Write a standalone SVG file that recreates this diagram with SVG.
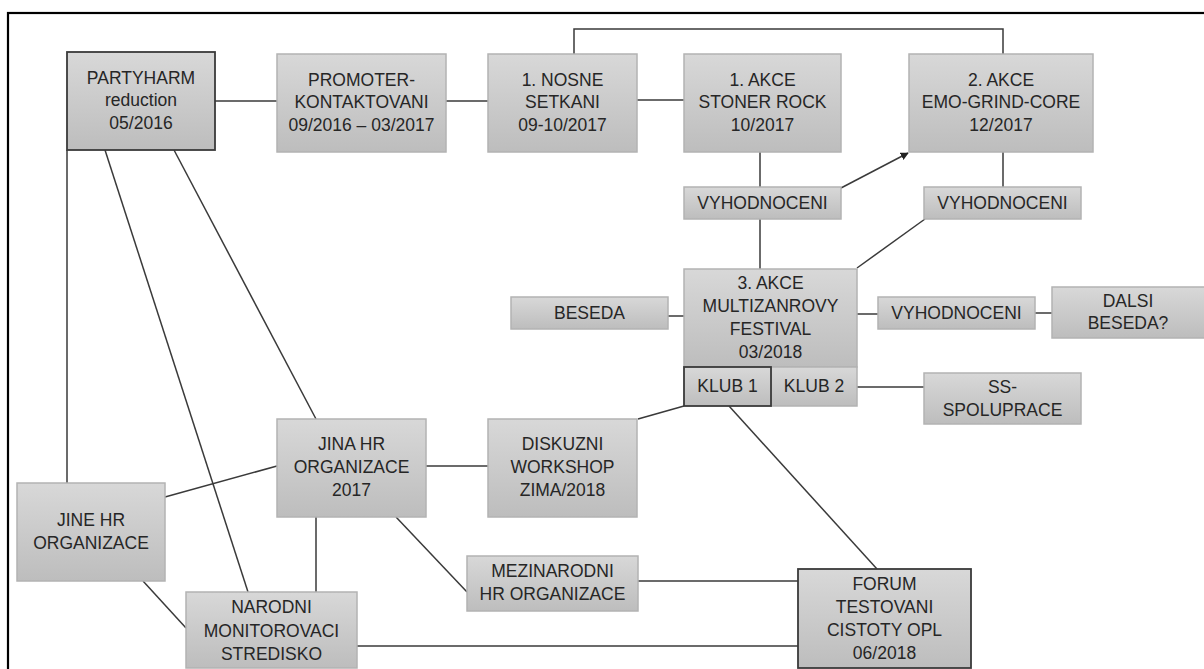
<svg xmlns="http://www.w3.org/2000/svg" width="1204" height="669" viewBox="0 0 1204 669">
<defs>
<linearGradient id="g" x1="0" y1="0" x2="0" y2="1">
<stop offset="0" stop-color="#d8d8d8"/>
<stop offset="1" stop-color="#bdbdbd"/>
</linearGradient>
<marker id="arr" viewBox="0 0 10 10" refX="9" refY="5" markerWidth="8" markerHeight="8" markerUnits="userSpaceOnUse" orient="auto">
<path d="M0,0 L10,5 L0,10 z" fill="#222"/>
</marker>
<style>
.n{fill:url(#g);stroke:#b3b3b3;stroke-width:1.5}
.d{fill:url(#g);stroke:#3a3a3a;stroke-width:1.8}
text{font-family:"Liberation Sans",Arial,sans-serif;font-size:17.5px;fill:#262626;text-anchor:middle}
.c line,.c polyline{stroke:#3a3a3a;stroke-width:1.5;fill:none}
</style>
</defs>
<rect x="8" y="13" width="1220" height="700" fill="#fff" stroke="#000" stroke-width="2.2"/>
<g class="c" id="connectors">
<line x1="215" y1="101" x2="277" y2="101"/>
<line x1="446" y1="101" x2="488" y2="101"/>
<line x1="637" y1="100" x2="684" y2="100"/>
<polyline points="574,54 574,29 1003,29 1003,54"/>
<line x1="760" y1="152" x2="760" y2="187"/>
<line x1="841" y1="188" x2="908" y2="153" marker-end="url(#arr)"/>
<line x1="1003" y1="152" x2="1003" y2="187"/>
<line x1="925" y1="219" x2="857" y2="268"/>
<line x1="760" y1="219" x2="760" y2="269"/>
<line x1="668" y1="316" x2="684" y2="316"/>
<line x1="857" y1="314" x2="878" y2="314"/>
<line x1="1035" y1="313" x2="1052" y2="313"/>
<line x1="857" y1="387" x2="924" y2="387"/>
<line x1="684" y1="406" x2="638" y2="419"/>
<line x1="729" y1="406" x2="877" y2="569"/>
<line x1="67" y1="150" x2="67" y2="483"/>
<line x1="105" y1="150" x2="248" y2="592"/>
<line x1="174" y1="150" x2="316" y2="419"/>
<line x1="165" y1="497" x2="277" y2="466"/>
<line x1="426" y1="466" x2="488" y2="466"/>
<line x1="316" y1="517" x2="316" y2="592"/>
<line x1="396" y1="517" x2="467" y2="592"/>
<line x1="143" y1="581" x2="186" y2="628"/>
<line x1="638" y1="581" x2="798" y2="581"/>
<line x1="357" y1="646" x2="798" y2="646"/>
</g>
<g id="partyharm"><rect class="d" x="67" y="52" width="148" height="98"/>
<text><tspan x="141" y="83.5">PARTYHARM</tspan><tspan x="141" y="106">reduction</tspan><tspan x="141" y="128.5">05/2016</tspan></text></g>
<g id="promoter"><rect class="n" x="277" y="54" width="169" height="98"/>
<text><tspan x="361.5" y="85.5">PROMOTER-</tspan><tspan x="361.5" y="108">KONTAKTOVANI</tspan><tspan x="361.5" y="130.5">09/2016 – 03/2017</tspan></text></g>
<g id="nosne"><rect class="n" x="488" y="54" width="149" height="98"/>
<text><tspan x="562.5" y="85.5">1. NOSNE</tspan><tspan x="562.5" y="108">SETKANI</tspan><tspan x="562.5" y="130.5">09-10/2017</tspan></text></g>
<g id="akce1"><rect class="n" x="684" y="54" width="157" height="98"/>
<text><tspan x="762.5" y="85.5">1. AKCE</tspan><tspan x="762.5" y="108">STONER ROCK</tspan><tspan x="762.5" y="130.5">10/2017</tspan></text></g>
<g id="akce2"><rect class="n" x="909" y="54" width="184" height="98"/>
<text><tspan x="1001" y="85.5">2. AKCE</tspan><tspan x="1001" y="108">EMO-GRIND-CORE</tspan><tspan x="1001" y="130.5">12/2017</tspan></text></g>
<g id="vyhod1"><rect class="n" x="684" y="187" width="157" height="32"/>
<text x="762.5" y="209">VYHODNOCENI</text></g>
<g id="vyhod2"><rect class="n" x="924" y="187" width="157" height="32"/>
<text x="1002.5" y="209">VYHODNOCENI</text></g>
<g id="akce3"><rect class="n" x="684" y="269" width="173" height="98"/>
<text><tspan x="770.5" y="288.5">3. AKCE</tspan><tspan x="770.5" y="311.5">MULTIZANROVY</tspan><tspan x="770.5" y="334.5">FESTIVAL</tspan><tspan x="770.5" y="357.5">03/2018</tspan></text></g>
<g id="klub2"><rect class="n" x="771" y="367" width="86" height="39"/>
<text x="814" y="392">KLUB 2</text></g>
<g id="klub1"><rect class="d" x="684" y="367" width="87" height="39"/>
<text x="727.5" y="392">KLUB 1</text></g>
<g id="beseda"><rect class="n" x="511" y="297" width="157" height="32"/>
<text x="589.5" y="319">BESEDA</text></g>
<g id="vyhod3"><rect class="n" x="878" y="297" width="157" height="32"/>
<text x="956.5" y="319">VYHODNOCENI</text></g>
<g id="dalsi"><rect class="n" x="1052" y="287" width="160" height="51"/>
<text><tspan x="1128" y="306.5">DALSI</tspan><tspan x="1128" y="328.5">BESEDA?</tspan></text></g>
<g id="ss"><rect class="n" x="924" y="373" width="157" height="51"/>
<text><tspan x="1002.5" y="392.5">SS-</tspan><tspan x="1002.5" y="415.5">SPOLUPRACE</tspan></text></g>
<g id="diskuzni"><rect class="n" x="488" y="419" width="149" height="98"/>
<text><tspan x="562.5" y="450">DISKUZNI</tspan><tspan x="562.5" y="473">WORKSHOP</tspan><tspan x="562.5" y="496">ZIMA/2018</tspan></text></g>
<g id="jina"><rect class="n" x="277" y="419" width="149" height="98"/>
<text><tspan x="351.5" y="450">JINA HR</tspan><tspan x="351.5" y="473">ORGANIZACE</tspan><tspan x="351.5" y="496">2017</tspan></text></g>
<g id="jine"><rect class="n" x="17" y="483" width="148" height="98"/>
<text><tspan x="91" y="526">JINE HR</tspan><tspan x="91" y="549">ORGANIZACE</tspan></text></g>
<g id="mezinarodni"><rect class="n" x="467" y="556" width="171" height="55"/>
<text><tspan x="552.5" y="577">MEZINARODNI</tspan><tspan x="552.5" y="600">HR ORGANIZACE</tspan></text></g>
<g id="narodni"><rect class="n" x="186" y="592" width="171" height="76"/>
<text><tspan x="271.5" y="613">NARODNI</tspan><tspan x="271.5" y="636.5">MONITOROVACI</tspan><tspan x="271.5" y="660">STREDISKO</tspan></text></g>
<g id="forum"><rect class="d" x="798" y="569" width="173" height="99"/>
<text><tspan x="884.5" y="590">FORUM</tspan><tspan x="884.5" y="613">TESTOVANI</tspan><tspan x="884.5" y="636">CISTOTY OPL</tspan><tspan x="884.5" y="659">06/2018</tspan></text></g>
</svg>
